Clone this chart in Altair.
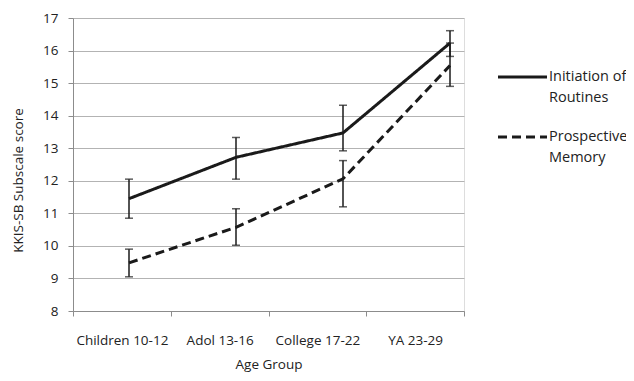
import altair as alt
import pandas as pd

groups = ["Children 10-12", "Adol 13-16", "College 17-22", "YA 23-29"]
series = ["Initiation of Routines", "Prospective Memory"]
init_mean = [11.45, 12.72, 13.47, 16.23]
init_lo = [10.85, 12.05, 12.92, 15.82]
init_hi = [12.05, 13.33, 14.32, 16.61]
pm_mean = [9.48, 10.57, 12.06, 15.54]
pm_lo = [9.05, 10.02, 11.20, 14.90]
pm_hi = [9.90, 11.14, 12.62, 16.23]
legend_lines = [["Initiation of", "Routines"], ["Prospective", "Memory"]]

rows = []
for i, g in enumerate(groups):
    rows.append(dict(group=g, series=series[0], mean=init_mean[i], lo=init_lo[i], hi=init_hi[i]))
for i, g in enumerate(groups):
    rows.append(dict(group=g, series=series[1], mean=pm_mean[i], lo=pm_lo[i], hi=pm_hi[i]))
df = pd.DataFrame(rows)

FONT = "Open Sans"
INK = "#1a1a1a"
TXT = "#222222"
AXC = "#8c8c8c"
AX_FS = 13.5
LG_FS = 14.5

yscale = alt.Scale(domain=[8, 17], nice=False, zero=False)
yaxis = alt.Axis(values=list(range(8, 18)), grid=True, gridColor="#b3b3b3", gridWidth=1,
                 domainColor=AXC, tickColor=AXC, tickSize=5, labelPadding=10,
                 labelFontSize=AX_FS, labelColor=TXT, labelFont=FONT,
                 title="KKIS-SB Subscale score", titleFont=FONT, titleFontSize=AX_FS,
                 titleFontWeight="normal", titleColor=TXT, titleX=-55, titleY=162,
                 titleAngle=270, titleAlign="center", titleBaseline="middle")

base_axis = alt.Chart(df).mark_tick(opacity=0).encode(
    x=alt.X("group:N", sort=groups, scale=alt.Scale(type="band", paddingInner=0, paddingOuter=0),
            axis=alt.Axis(title="Age Group", labelAngle=0, tickBand="extent", grid=False,
                          domainColor=AXC, tickColor=AXC, tickSize=5, labelPadding=17,
                          labelFontSize=AX_FS, labelColor=TXT, labelFont=FONT,
                          titleFont=FONT, titleFontSize=AX_FS, titleFontWeight="normal",
                          titleColor=TXT, titlePadding=11)),
    y=alt.Y("mean:Q", scale=yscale, axis=yaxis),
)

xp = alt.X("group:N", sort=groups, scale=alt.Scale(type="point", range=[56, 377], padding=0), axis=None)
dash_scale = alt.Scale(domain=series, range=[[1, 0], [9, 5]])

lines = alt.Chart(df).mark_line(color=INK, strokeWidth=3).encode(
    x=xp,
    y=alt.Y("mean:Q", scale=yscale, axis=yaxis),
    strokeDash=alt.StrokeDash("series:N", scale=dash_scale, legend=None),
    detail="series:N",
)

rules = alt.Chart(df).mark_rule(color=INK, strokeWidth=1.5).encode(
    x=xp, y=alt.Y("lo:Q", scale=yscale, axis=yaxis), y2="hi:Q")
cap_lo = alt.Chart(df).mark_tick(color=INK, thickness=1.5, size=8).encode(
    x=xp, y=alt.Y("lo:Q", scale=yscale, axis=yaxis))
cap_hi = alt.Chart(df).mark_tick(color=INK, thickness=1.5, size=8).encode(
    x=xp, y=alt.Y("hi:Q", scale=yscale, axis=yaxis))

# manual legend (right of plot)
legend_layers = []
for k, s in enumerate(series):
    y0 = 59 + 60 * k
    ldf = pd.DataFrame({"series": [s]})
    legend_layers.append(
        alt.Chart(ldf).mark_rule(color=INK, strokeWidth=3).encode(
            x=alt.value(425), x2=alt.value(474), y=alt.value(y0),
            strokeDash=alt.StrokeDash("series:N", scale=dash_scale, legend=None))
    )
    for j, t in enumerate(legend_lines[k]):
        tdf = pd.DataFrame({"t": [t]})
        legend_layers.append(
            alt.Chart(tdf).mark_text(align="left", baseline="middle", font=FONT,
                                     fontSize=LG_FS, color=TXT).encode(
                x=alt.value(476), y=alt.value(y0 + 21 * j), text="t:N")
        )

chart = alt.layer(base_axis, rules, cap_lo, cap_hi, lines, *legend_layers).resolve_scale(
    x="independent").properties(
    width=391, height=293,
    autosize=alt.AutoSizeParams(type="none"),
    padding={"left": 65, "top": 10, "right": 162, "bottom": 62},
).configure_view(stroke=None).configure(background="white")

chart.save("out.html", embed_options={"renderer": "svg", "actions": False})
